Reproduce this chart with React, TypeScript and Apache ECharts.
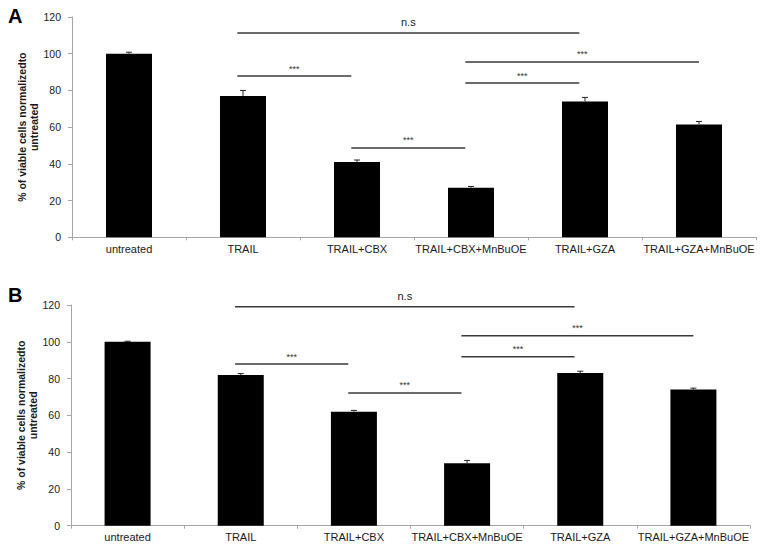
import React, { useEffect, useRef } from "react";
import * as echarts from "echarts";

const categories = [
  "untreated",
  "TRAIL",
  "TRAIL+CBX",
  "TRAIL+CBX+MnBuOE",
  "TRAIL+GZA",
  "TRAIL+GZA+MnBuOE",
];
const valuesA = [100, 77, 41, 27, 74, 61.5];
const errorsA = [0.8, 3, 1.1, 0.7, 2.2, 1.6];
const valuesB = [100, 82, 62, 34, 83, 74];
const errorsB = [0.3, 0.7, 0.7, 1.5, 1, 0.8];
const yTicks = [0, 20, 40, 60, 80, 100, 120];

// [startIndex, endIndex, yValue]
const bracketsA = [
  [0.95, 3.95, 111.3],
  [0.95, 1.95, 87.8],
  [1.95, 2.95, 48.7],
  [2.95, 5.0, 95.5],
  [2.95, 3.95, 84],
];
const bracketLabelsA = ["n.s", "***", "***", "***", "***"];
const bracketsB = [
  [0.95, 3.95, 119.1],
  [0.95, 1.95, 87.9],
  [1.95, 2.95, 72.2],
  [2.95, 5.0, 103.3],
  [2.95, 3.95, 91.9],
];
const bracketLabelsB = ["n.s", "***", "***", "***", "***"];

const FONT = "Liberation Sans, Arial, sans-serif";
const AXIS_COLOR = "#a6a6a6";
const TEXT_COLOR = "#1a1a1a";

function makeAxes(gridIndex: number) {
  const xCat = {
    type: "category",
    gridIndex,
    data: categories,
    axisLine: { onZero: false, lineStyle: { color: AXIS_COLOR, width: 1 } },
    axisTick: { show: true, length: 3, lineStyle: { color: AXIS_COLOR } },
    axisLabel: { color: TEXT_COLOR, fontSize: 11, fontFamily: FONT, margin: 6, interval: 0 },
  };
  const xVal = {
    type: "value",
    gridIndex,
    min: -0.5,
    max: 5.5,
    show: false,
    axisLine: { onZero: false },
  };
  const y = {
    type: "value",
    gridIndex,
    min: yTicks[0],
    max: yTicks[yTicks.length - 1],
    interval: 20,
    name: "% of viable cells normalizedto\nuntreated",
    nameLocation: "middle",
    nameRotate: 90,
    nameGap: 32,
    nameMoveOverlap: false,
    nameTextStyle: {
      fontSize: 10.5,
      fontWeight: "bold",
      fontFamily: FONT,
      color: TEXT_COLOR,
      lineHeight: 12,
      align: "center",
    },
    axisLine: { show: true, onZero: false, lineStyle: { color: AXIS_COLOR, width: 1 } },
    axisTick: { show: true, length: 4, lineStyle: { color: AXIS_COLOR } },
    splitLine: { show: false },
    axisLabel: { color: TEXT_COLOR, fontSize: 10.5, fontFamily: FONT, margin: 11 },
  };
  return { xCat, xVal, y };
}

function errorSeries(axisIdx: number, values: number[], errors: number[]) {
  return {
    type: "custom",
    xAxisIndex: axisIdx * 2,
    yAxisIndex: axisIdx,
    z: 5,
    data: values.map((v, i) => [i, v, errors[i]]),
    renderItem: (params: any, api: any) => {
      const i = api.value(0);
      const v = api.value(1);
      const e = api.value(2);
      const p0 = api.coord([i, v]);
      const p1 = api.coord([i, v + e]);
      const hw = 3;
      const st = { stroke: "#222", lineWidth: 1 };
      return {
        type: "group",
        children: [
          { type: "line", shape: { x1: p0[0], y1: p0[1], x2: p1[0], y2: p1[1] }, style: st },
          { type: "line", shape: { x1: p1[0] - hw, y1: p1[1], x2: p1[0] + hw, y2: p1[1] }, style: st },
        ],
      };
    },
  };
}

function bracketSeries(axisIdx: number, brackets: number[][], labels: string[]) {
  return {
    type: "custom",
    xAxisIndex: axisIdx * 2 + 1,
    yAxisIndex: axisIdx,
    z: 6,
    clip: false,
    data: brackets,
    renderItem: (params: any, api: any) => {
      const x1 = api.value(0);
      const x2 = api.value(1);
      const yv = api.value(2);
      const a = api.coord([x1, yv]);
      const b = api.coord([x2, yv]);
      const label = labels[params.dataIndex];
      const ns = label === "n.s";
      return {
        type: "group",
        children: [
          {
            type: "line",
            shape: { x1: a[0], y1: a[1], x2: b[0], y2: b[1] },
            style: { stroke: "#3a3a3a", lineWidth: 1.5 },
          },
          {
            type: "text",
            style: {
              text: label,
              x: (a[0] + b[0]) / 2,
              y: a[1] - (ns ? 5 : 3),
              align: "center",
              verticalAlign: "bottom",
              fontSize: ns ? 11 : 9,
              fontFamily: FONT,
              fill: ns ? TEXT_COLOR : "#333",
            },
          },
        ],
      };
    },
  };
}

export default function App() {
  const ref = useRef<HTMLDivElement>(null);
  useEffect(() => {
    document.body.style.margin = "0";
    if (!ref.current) return;
    const chart = echarts.init(ref.current, undefined, { renderer: "svg" });
    const A = makeAxes(0);
    const B = makeAxes(1);
    chart.setOption({
      animation: false,
      backgroundColor: "#ffffff",
      textStyle: { fontFamily: FONT },
      grid: [
        { left: 72, top: 17, width: 684, height: 220.3 },
        { left: 71, top: 305, width: 679, height: 220.7 },
      ],
      xAxis: [A.xCat, A.xVal, B.xCat, B.xVal],
      yAxis: [A.y, B.y],
      graphic: [
        {
          type: "text",
          left: 8,
          top: 6,
          style: { text: "A", fontSize: 20, fontWeight: "bold", fontFamily: FONT, fill: "#000" },
        },
        {
          type: "text",
          left: 8,
          top: 285,
          style: { text: "B", fontSize: 20, fontWeight: "bold", fontFamily: FONT, fill: "#000" },
        },
      ],
      series: [
        {
          type: "bar",
          xAxisIndex: 0,
          yAxisIndex: 0,
          data: valuesA,
          barWidth: 46,
          itemStyle: { color: "#000" },
        },
        errorSeries(0, valuesA, errorsA),
        bracketSeries(0, bracketsA, bracketLabelsA),
        {
          type: "bar",
          xAxisIndex: 2,
          yAxisIndex: 1,
          data: valuesB,
          barWidth: 46,
          itemStyle: { color: "#000" },
        },
        errorSeries(1, valuesB, errorsB),
        bracketSeries(1, bracketsB, bracketLabelsB),
      ],
    });
    return () => chart.dispose();
  }, []);
  return <div ref={ref} style={{ width: 764, height: 549 }} />;
}
